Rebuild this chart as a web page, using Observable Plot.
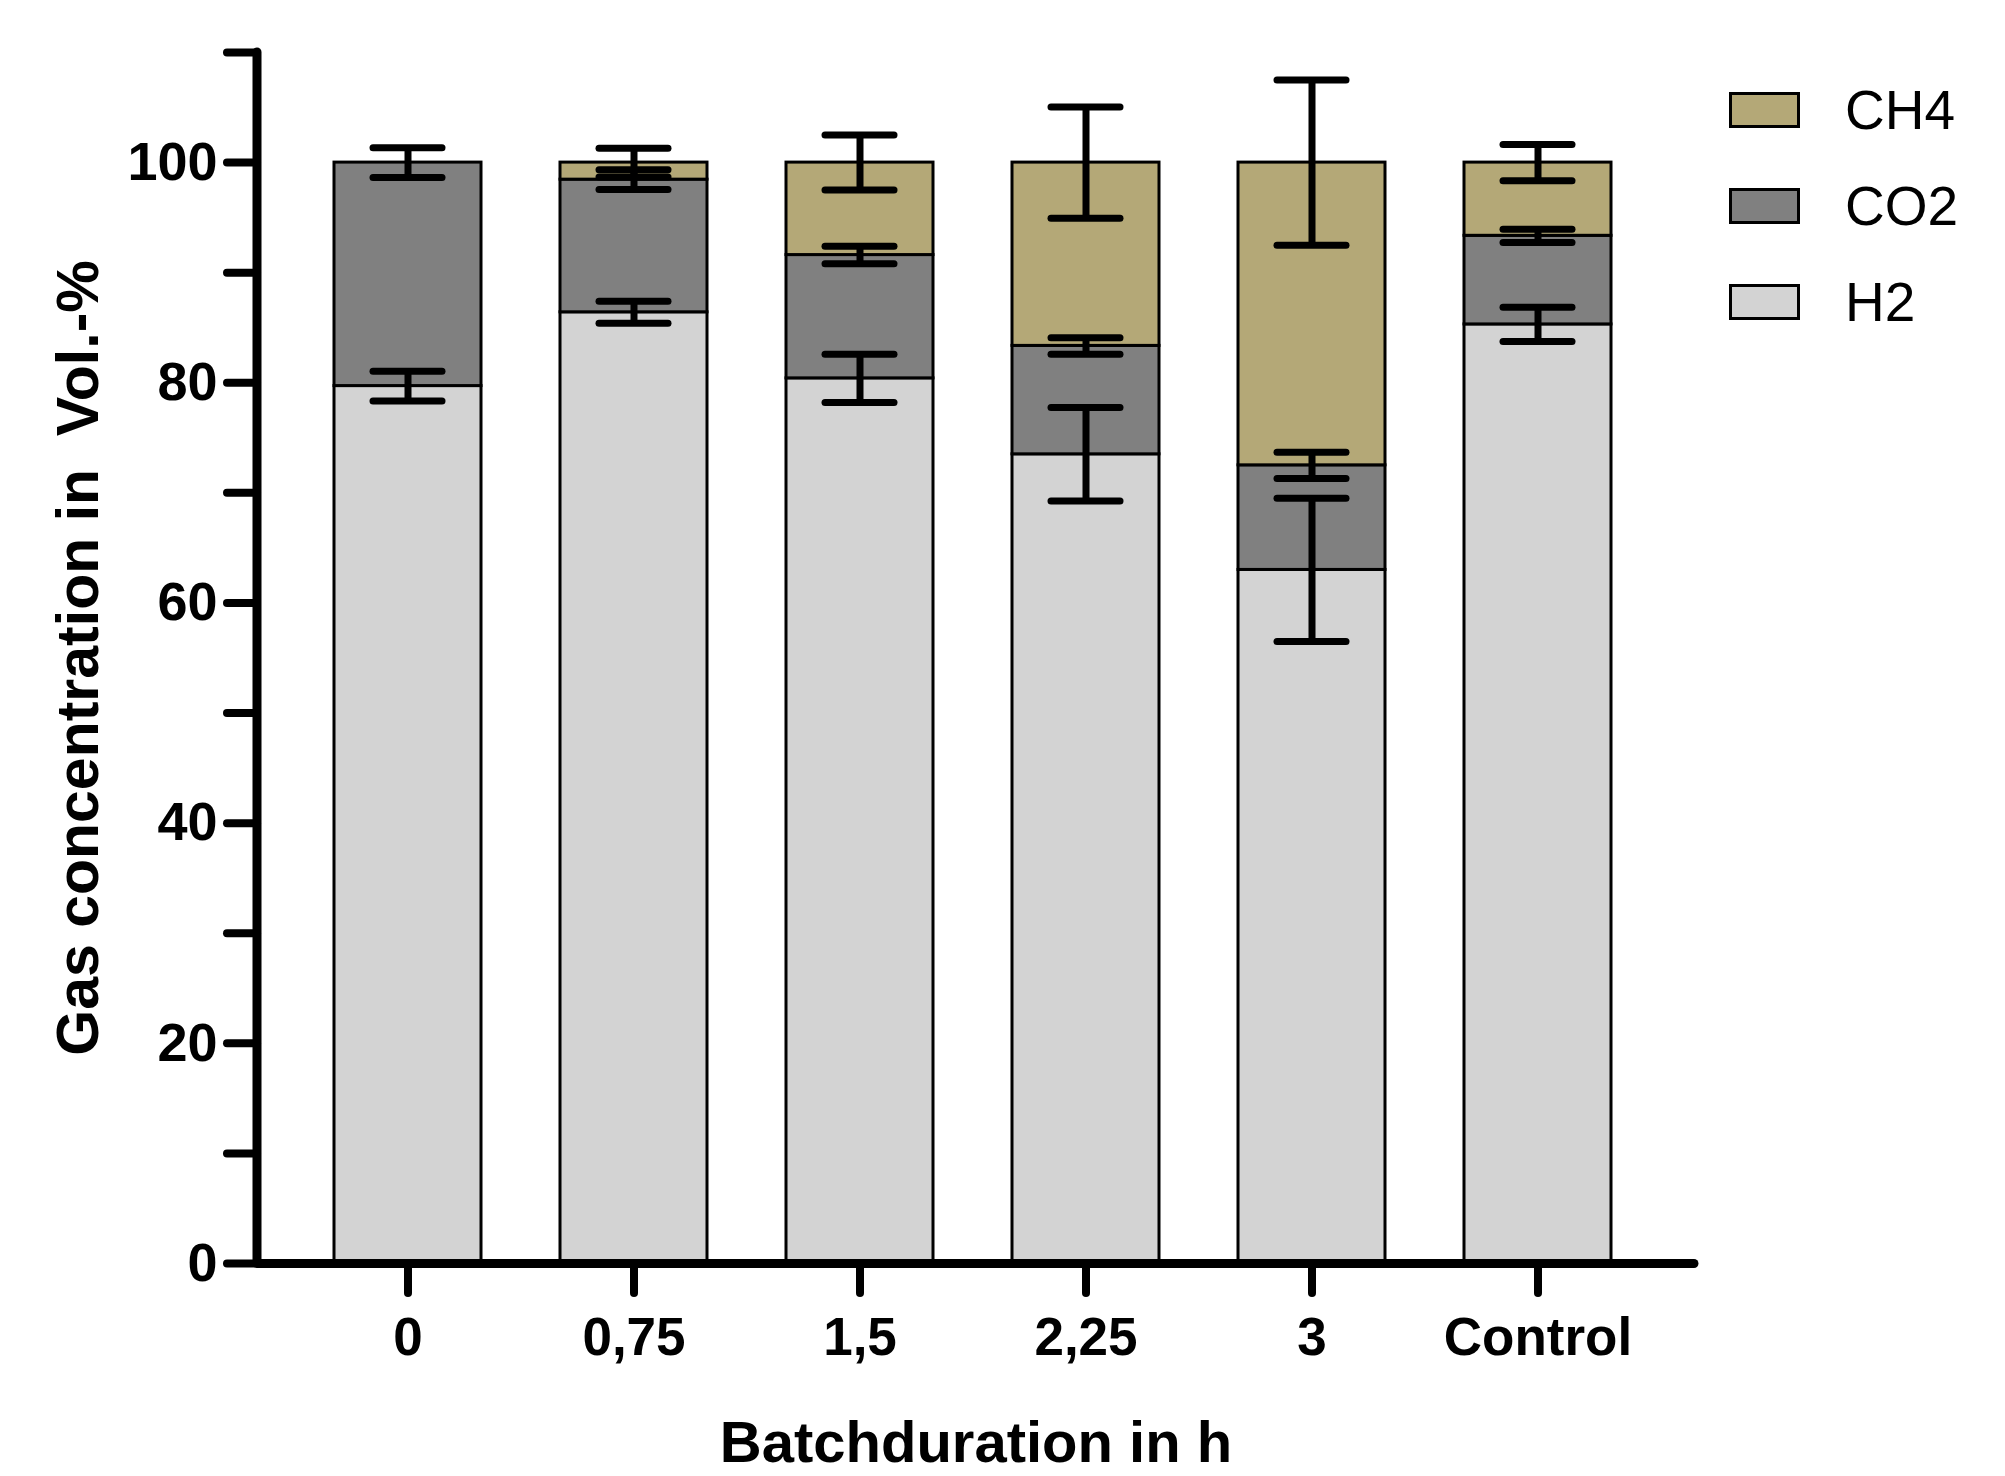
<!DOCTYPE html>
<html><head><meta charset="utf-8">
<script src="https://cdn.jsdelivr.net/npm/d3@7"></script>
<script src="https://cdn.jsdelivr.net/npm/@observablehq/plot@0.6"></script>
<style>
body{margin:0;background:#fff;}
#wrap{position:relative;width:2005px;height:1476px;font-family:"Liberation Sans",Arial,sans-serif;}
.item{position:absolute;left:1729px;display:flex;align-items:center;height:36px;}
.sw{width:71px;height:36px;box-sizing:border-box;border:3px solid #000;margin-right:45px;}
.lbl{font-size:55px;color:#000;line-height:36px;}
</style></head>
<body><div id="wrap"></div>
<script>
const categories = ["0", "0,75", "1,5", "2,25", "3", "Control"];
const gases = ["H2", "CO2", "CH4"];
const gasColors = ["#d3d3d3", "#808080", "#b4a877"];
const h2 = [79.7, 86.4, 80.4, 73.5, 63.0, 85.3];
const co2 = [20.3, 12.05, 11.2, 9.85, 9.5, 8.05];
const ch4 = [0, 1.55, 8.4, 16.65, 27.5, 6.65];
const h2Err = [1.35, 1.0, 2.2, 4.25, 6.5, 1.55];
const co2Err = [1.35, 0.9, 0.8, 0.75, 1.2, 0.6];
const ch4Err = [0, 1.3, 2.5, 5.05, 7.5, 1.65];
const yMajorTicks = [0, 20, 40, 60, 80, 100];
const yMinorTicks = [10, 30, 50, 70, 90, 110];

const series = {H2: [h2, h2Err], CO2: [co2, co2Err], CH4: [ch4, ch4Err]};
const rows = [];
const errs = [];
categories.forEach((c, i) => {
  let cum = 0;
  for (const g of gases) {
    const v = series[g][0][i], e = series[g][1][i];
    if (v > 0) {
      rows.push({cat: c, gas: g, value: v});
      cum += v;
      errs.push({cat: c, gas: g, lo: cum - e, hi: cum + e});
    }
  }
});

const font = '"Liberation Sans", Arial, sans-serif';

const yAxisLine = (index, scales, values, dims) => {
  const g = d3.create("svg:g");
  g.append("line")
    .attr("x1", dims.marginLeft).attr("x2", dims.marginLeft)
    .attr("y1", scales.y(110)).attr("y2", scales.y(0))
    .attr("stroke", "black").attr("stroke-width", 9).attr("stroke-linecap", "round");
  return g.node();
};

const chart = Plot.plot({
  width: 2005,
  height: 1476,
  marginLeft: 257,
  marginRight: 311,
  marginTop: 52,
  marginBottom: 213,
  style: {fontFamily: font, color: "black", background: "white"},
  x: {domain: categories, paddingInner: 0.35, paddingOuter: 0, insetLeft: 76, insetRight: 83},
  y: {domain: [0, 110]},
  color: {domain: gases, range: gasColors},
  marks: [
    Plot.barY(rows, {x: "cat", y: "value", fill: "gas", stroke: "black", strokeWidth: 3}),
    Plot.ruleX(errs, {x: "cat", y1: "lo", y2: "hi", stroke: "black", strokeWidth: 7}),
    Plot.tickY(errs, {x: "cat", y: "lo", stroke: "black", strokeWidth: 7, strokeLinecap: "round", insetLeft: 39, insetRight: 39}),
    Plot.tickY(errs, {x: "cat", y: "hi", stroke: "black", strokeWidth: 7, strokeLinecap: "round", insetLeft: 39, insetRight: 39}),
    Plot.ruleY([0], {stroke: "black", strokeWidth: 9, strokeLinecap: "round"}),
    yAxisLine,
    Plot.axisY({ticks: yMajorTicks, tickSize: 30, tickPadding: 10, strokeWidth: 8, strokeLinecap: "round",
      fontSize: 54, fontWeight: "bold", tickFormat: d => String(d), label: null}),
    Plot.axisY({ticks: yMinorTicks, tickSize: 30, strokeWidth: 8, strokeLinecap: "round", text: null, label: null}),
    Plot.axisX({tickSize: 30, tickPadding: 24, strokeWidth: 8, strokeLinecap: "round",
      fontSize: 53, fontWeight: "bold", label: null}),
    Plot.text(["Gas concentration in  Vol.-%"], {text: d => d, frameAnchor: "left", rotate: -90, dx: -178,
      textAnchor: "middle", lineAnchor: "middle", fontSize: 59, fontWeight: "bold"}),
    Plot.text(["Batchduration in h"], {text: d => d, frameAnchor: "bottom", dy: 180,
      textAnchor: "middle", lineAnchor: "middle", fontSize: 58, fontWeight: "bold"})
  ]
});

const wrap = document.getElementById("wrap");
wrap.appendChild(chart);
const legendOrder = gases.slice().reverse();
legendOrder.forEach((g, i) => {
  const item = document.createElement("div");
  item.className = "item";
  item.style.top = (92 + i * 96) + "px";
  const sw = document.createElement("div");
  sw.className = "sw";
  sw.style.background = gasColors[gases.indexOf(g)];
  const lbl = document.createElement("div");
  lbl.className = "lbl";
  lbl.textContent = g;
  item.appendChild(sw);
  item.appendChild(lbl);
  wrap.appendChild(item);
});
chart.style.position = "absolute";
chart.style.left = "0";
chart.style.top = "0";
</script>
</body></html>
